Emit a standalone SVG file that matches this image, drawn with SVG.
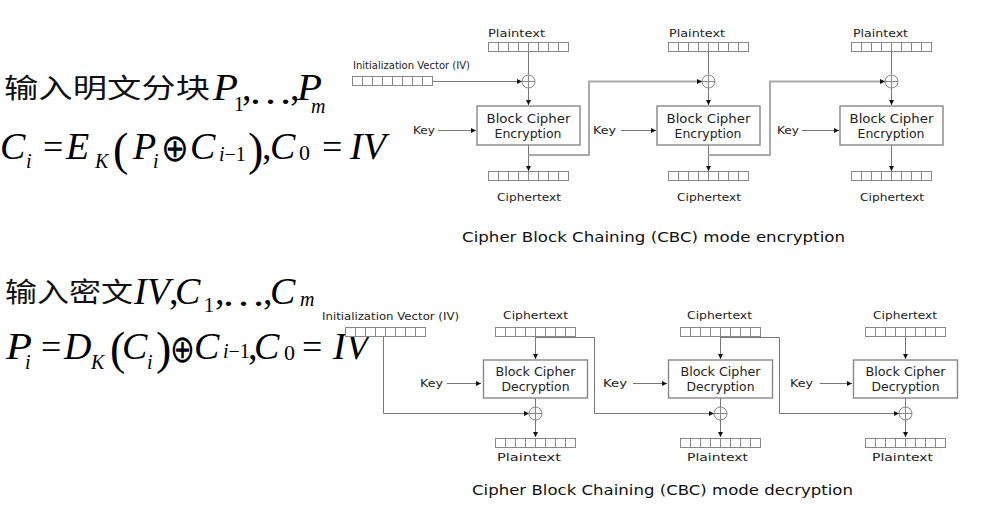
<svg xmlns="http://www.w3.org/2000/svg" xmlns:xlink="http://www.w3.org/1999/xlink" width="983" height="514" viewBox="0 0 983 514">
<style>
.lbl{font-family:"DejaVu Sans",sans-serif;font-size:11px;fill:#222}
.blk{font-family:"DejaVu Sans",sans-serif;font-size:12px;fill:#222}
.cap{font-family:"DejaVu Sans",sans-serif;font-size:14px;fill:#111}
.m{font-family:"Liberation Serif","Times New Roman",serif;font-size:38px;fill:#000}
.i{font-style:italic}
.s{font-size:20px}
.cn{font-family:"Noto Sans CJK SC",sans-serif;font-size:27px;fill:#111}
.op{font-family:"DejaVu Sans",sans-serif;font-size:38px;fill:#000}
.ln{fill:none;stroke:#777;stroke-width:1}
.ch{fill:none;stroke:#aaa;stroke-width:2}
.box{fill:#fff;stroke:#888;stroke-width:1.4}
.xor{fill:#fff;stroke:#888;stroke-width:1}
</style>
<defs>
<marker id="ah" viewBox="0 0 10 10" refX="10" refY="5" markerWidth="6" markerHeight="5" orient="auto" markerUnits="userSpaceOnUse"><path d="M0,0 L10,5 L0,10 z" fill="#111"/></marker>
<g id="reg"><rect x="0" y="0" width="80" height="9" fill="#fff" stroke="#888"/><path d="M10 0v9M20 0v9M30 0v9M40 0v9M50 0v9M60 0v9M70 0v9" stroke="#888"/></g>
<g id="x"><circle r="6.5" class="xor"/><path d="M-6.5 0H6.5M0 -6.5V6.5" stroke="#888"/></g>
</defs>
<rect width="983" height="514" fill="#fff"/>

<g id="formulas">
<text class="cn" x="4" y="98" textLength="206" lengthAdjust="spacingAndGlyphs">输入明文分块</text>
<text class="m i" x="213" y="100" textLength="25" lengthAdjust="spacingAndGlyphs">P</text>
<text class="m s" x="234" y="111">1</text>
<text class="m" x="242" y="100">,</text>
<text class="m" x="248" y="104" textLength="45" lengthAdjust="spacingAndGlyphs">…</text>
<text class="m" x="290" y="100">,</text>
<text class="m i" x="297" y="100" textLength="25" lengthAdjust="spacingAndGlyphs">P</text>
<text class="m i s" x="311" y="113">m</text>

<text class="m i" x="0" y="159">C</text>
<text class="m i s" x="26" y="168">i</text>
<text class="m" x="43" y="159" style="font-size:36px">=</text>
<text class="m i" x="66" y="159">E</text>
<text class="m i s" x="95" y="168">K</text>
<text class="m" x="113" y="165" style="font-size:46px">(</text>
<text class="m i" x="133" y="159">P</text>
<text class="m i s" x="153" y="168">i</text>
<text class="op" x="161" y="161" textLength="28" lengthAdjust="spacingAndGlyphs">⊕</text>
<text class="m i" x="190" y="159">C</text>
<text class="m s" x="219" y="161"><tspan class="i">i</tspan>−1</text>
<text class="m" x="248" y="165" style="font-size:46px">)</text>
<text class="m" x="262" y="159">,</text>
<text class="m i" x="270" y="159">C</text>
<text class="m" x="299" y="160" style="font-size:22px">0</text>
<text class="m" x="322" y="159" style="font-size:36px">=</text>
<text class="m i" x="350" y="159">IV</text>

<text class="cn" x="5" y="302" textLength="128" lengthAdjust="spacingAndGlyphs">输入密文</text>
<text class="m i" x="134" y="304">IV</text>
<text class="m" x="169" y="304">,</text>
<text class="m i" x="175" y="304">C</text>
<text class="m s" x="204" y="312">1</text>
<text class="m" x="215" y="304">,</text>
<text class="m" x="221" y="306" textLength="45" lengthAdjust="spacingAndGlyphs">…</text>
<text class="m" x="263" y="304">,</text>
<text class="m i" x="270" y="304">C</text>
<text class="m i s" x="300" y="306">m</text>

<text class="m i" x="6" y="359" textLength="26" lengthAdjust="spacingAndGlyphs">P</text>
<text class="m i s" x="25" y="369">i</text>
<text class="m" x="41" y="359" style="font-size:36px">=</text>
<text class="m i" x="64" y="359">D</text>
<text class="m i s" x="91" y="369">K</text>
<text class="m" x="110" y="364" style="font-size:46px">(</text>
<text class="m i" x="122" y="359">C</text>
<text class="m i s" x="147" y="369">i</text>
<text class="m" x="156" y="364" style="font-size:46px">)</text>
<text class="op" x="170" y="362" textLength="25" lengthAdjust="spacingAndGlyphs">⊕</text>
<text class="m i" x="194" y="359">C</text>
<text class="m s" x="223" y="358"><tspan class="i">i</tspan>−1</text>
<text class="m" x="248" y="359">,</text>
<text class="m i" x="254" y="359">C</text>
<text class="m" x="284" y="360" style="font-size:22px">0</text>
<text class="m" x="302" y="359" style="font-size:36px">=</text>
<text class="m i" x="333" y="359">IV</text>
</g>

<g id="connectors">
<!-- encryption -->
<path class="ln" d="M528.5 52V74.5M708.5 52V74.5M891.5 52V74.5"/>
<path class="ln" d="M528.5 87.5V105" marker-end="url(#ah)"/>
<path class="ln" d="M708.5 87.5V105" marker-end="url(#ah)"/>
<path class="ln" d="M891.5 87.5V105" marker-end="url(#ah)"/>
<path class="ln" d="M528.5 145V171" marker-end="url(#ah)"/>
<path class="ln" d="M708.5 145V171" marker-end="url(#ah)"/>
<path class="ln" d="M891.5 145V171" marker-end="url(#ah)"/>
<path class="ln" d="M438 130.5H476" marker-end="url(#ah)"/>
<path class="ln" d="M621 130.5H656" marker-end="url(#ah)"/>
<path class="ln" d="M802 130.5H839" marker-end="url(#ah)"/>
<path class="ln" d="M433 81.5H522" marker-end="url(#ah)"/>
<path class="ch" d="M528.5 155H589V81.5H702" marker-end="url(#ah)"/>
<path class="ch" d="M708.5 155H770V81.5H885" marker-end="url(#ah)"/>
<!-- decryption -->
<path class="ln" d="M535.5 336.5V359" marker-end="url(#ah)"/>
<path class="ln" d="M720.5 336.5V359" marker-end="url(#ah)"/>
<path class="ln" d="M905.5 336.5V359" marker-end="url(#ah)"/>
<path class="ln" d="M535.5 398V407M720.5 398V407M905.5 398V407"/>
<path class="ln" d="M535.5 420V437" marker-end="url(#ah)"/>
<path class="ln" d="M720.5 420V437" marker-end="url(#ah)"/>
<path class="ln" d="M905.5 420V437" marker-end="url(#ah)"/>
<path class="ln" d="M447 383.5H481" marker-end="url(#ah)"/>
<path class="ln" d="M633 383.5H667" marker-end="url(#ah)"/>
<path class="ln" d="M820 383.5H852" marker-end="url(#ah)"/>
<path class="ln" d="M383.5 336.5V413.5H529" marker-end="url(#ah)"/>
<path class="ln" d="M535.5 337.5H594.5V413.5H714" marker-end="url(#ah)"/>
<path class="ln" d="M720.5 337.5H779.5V413.5H899" marker-end="url(#ah)"/>
</g>

<g id="enc-iv"><text class="lbl" x="353" y="69" textLength="117" lengthAdjust="spacingAndGlyphs">Initialization Vector (IV)</text><use xlink:href="#reg" x="352.5" y="76.5"/></g>

<g id="enc1">
<text class="lbl" x="488" y="37" textLength="57" lengthAdjust="spacingAndGlyphs">Plaintext</text>
<use xlink:href="#reg" x="488.5" y="42.5"/>
<use xlink:href="#x" x="528.5" y="81.5"/>
<text class="lbl" x="413" y="134" textLength="22" lengthAdjust="spacingAndGlyphs">Key</text>
<rect class="box" x="477" y="106" width="103" height="39"/>
<text class="blk" x="486.5" y="123" textLength="84" lengthAdjust="spacingAndGlyphs">Block Cipher</text>
<text class="blk" x="494.5" y="138" textLength="67" lengthAdjust="spacingAndGlyphs">Encryption</text>
<use xlink:href="#reg" x="488.5" y="171.5"/>
<text class="lbl" x="497" y="201" textLength="64" lengthAdjust="spacingAndGlyphs">Ciphertext</text>
</g>
<g id="enc2">
<text class="lbl" x="669" y="37" textLength="56" lengthAdjust="spacingAndGlyphs">Plaintext</text>
<use xlink:href="#reg" x="668.5" y="42.5"/>
<use xlink:href="#x" x="708.5" y="81.5"/>
<text class="lbl" x="593" y="134" textLength="23" lengthAdjust="spacingAndGlyphs">Key</text>
<rect class="box" x="657" y="106" width="103" height="39"/>
<text class="blk" x="666.5" y="123" textLength="84" lengthAdjust="spacingAndGlyphs">Block Cipher</text>
<text class="blk" x="674.5" y="138" textLength="67" lengthAdjust="spacingAndGlyphs">Encryption</text>
<use xlink:href="#reg" x="668.5" y="171.5"/>
<text class="lbl" x="677" y="201" textLength="64" lengthAdjust="spacingAndGlyphs">Ciphertext</text>
</g>
<g id="enc3">
<text class="lbl" x="853" y="37" textLength="55" lengthAdjust="spacingAndGlyphs">Plaintext</text>
<use xlink:href="#reg" x="851.5" y="42.5"/>
<use xlink:href="#x" x="891.5" y="81.5"/>
<text class="lbl" x="777" y="134" textLength="22" lengthAdjust="spacingAndGlyphs">Key</text>
<rect class="box" x="840" y="106" width="103" height="39"/>
<text class="blk" x="849.5" y="123" textLength="84" lengthAdjust="spacingAndGlyphs">Block Cipher</text>
<text class="blk" x="857.5" y="138" textLength="67" lengthAdjust="spacingAndGlyphs">Encryption</text>
<use xlink:href="#reg" x="851.5" y="171.5"/>
<text class="lbl" x="860" y="201" textLength="64" lengthAdjust="spacingAndGlyphs">Ciphertext</text>
</g>
<g id="enc-caption"><text class="cap" x="462" y="242" textLength="383" lengthAdjust="spacingAndGlyphs">Cipher Block Chaining (CBC) mode encryption</text></g>

<g id="dec-iv"><text class="lbl" x="322" y="320" textLength="137" lengthAdjust="spacingAndGlyphs">Initialization Vector (IV)</text><use xlink:href="#reg" x="345.5" y="327.5"/></g>

<g id="dec1">
<text class="lbl" x="503" y="319" textLength="65" lengthAdjust="spacingAndGlyphs">Ciphertext</text>
<use xlink:href="#reg" x="495.5" y="327.5"/>
<text class="lbl" x="420" y="387" textLength="23" lengthAdjust="spacingAndGlyphs">Key</text>
<rect class="box" x="483.5" y="360" width="104" height="38"/>
<text class="blk" x="495.5" y="376" textLength="80" lengthAdjust="spacingAndGlyphs">Block Cipher</text>
<text class="blk" x="501.5" y="391" textLength="68" lengthAdjust="spacingAndGlyphs">Decryption</text>
<use xlink:href="#x" x="535.5" y="413.5"/>
<use xlink:href="#reg" x="495.5" y="438.5"/>
<text class="lbl" x="497" y="461" textLength="64" lengthAdjust="spacingAndGlyphs">Plaintext</text>
</g>
<g id="dec2">
<text class="lbl" x="687" y="319" textLength="65" lengthAdjust="spacingAndGlyphs">Ciphertext</text>
<use xlink:href="#reg" x="680.5" y="327.5"/>
<text class="lbl" x="603" y="387" textLength="24" lengthAdjust="spacingAndGlyphs">Key</text>
<rect class="box" x="668.5" y="360" width="104" height="38"/>
<text class="blk" x="680.5" y="376" textLength="80" lengthAdjust="spacingAndGlyphs">Block Cipher</text>
<text class="blk" x="686.5" y="391" textLength="68" lengthAdjust="spacingAndGlyphs">Decryption</text>
<use xlink:href="#x" x="720.5" y="413.5"/>
<use xlink:href="#reg" x="680.5" y="438.5"/>
<text class="lbl" x="687" y="461" textLength="61" lengthAdjust="spacingAndGlyphs">Plaintext</text>
</g>
<g id="dec3">
<text class="lbl" x="873" y="319" textLength="64" lengthAdjust="spacingAndGlyphs">Ciphertext</text>
<use xlink:href="#reg" x="865.5" y="327.5"/>
<text class="lbl" x="790" y="387" textLength="23" lengthAdjust="spacingAndGlyphs">Key</text>
<rect class="box" x="853.5" y="360" width="104" height="38"/>
<text class="blk" x="865.5" y="376" textLength="80" lengthAdjust="spacingAndGlyphs">Block Cipher</text>
<text class="blk" x="871.5" y="391" textLength="68" lengthAdjust="spacingAndGlyphs">Decryption</text>
<use xlink:href="#x" x="905.5" y="413.5"/>
<use xlink:href="#reg" x="865.5" y="438.5"/>
<text class="lbl" x="872" y="461" textLength="61" lengthAdjust="spacingAndGlyphs">Plaintext</text>
</g>
<g id="dec-caption"><text class="cap" x="472" y="495" textLength="381" lengthAdjust="spacingAndGlyphs">Cipher Block Chaining (CBC) mode decryption</text></g>
</svg>
